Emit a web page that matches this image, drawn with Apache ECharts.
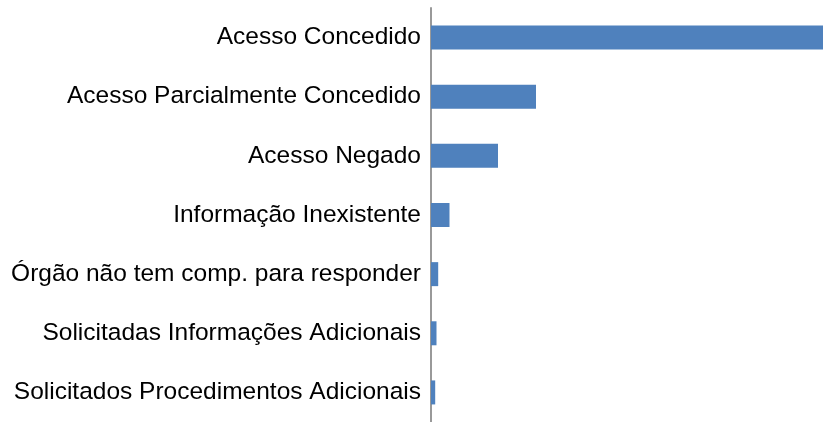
<!DOCTYPE html>
<html>
<head>
<meta charset="utf-8">
<script src="https://cdn.jsdelivr.net/npm/echarts@6/dist/echarts.min.js"></script>
<style>
  html, body { margin: 0; padding: 0; background: #fff; }
  #chart { width: 823px; height: 422px; }
</style>
</head>
<body>
<div id="chart"></div>
<script>
// categories top to bottom
const categories = [
  'Acesso Concedido',
  'Acesso Parcialmente Concedido',
  'Acesso Negado',
  'Informação Inexistente',
  'Órgão não tem comp. para responder',
  'Solicitadas Informações Adicionais',
  'Solicitados Procedimentos Adicionais'
]
const values = [3920, 1050, 670, 185, 72, 55, 42]

const chart = echarts.init(document.getElementById('chart'))
chart.setOption({
  animation: false,
  grid: { left: 431, right: 0, top: 8, height: 420 },
  xAxis: {
    type: 'value',
    min: 0,
    max: 3920,
    show: false
  },
  yAxis: {
    type: 'category',
    data: categories,
    inverse: true,
    axisLine: { show: true, lineStyle: { color: '#999999', width: 2 } },
    axisTick: { show: false },
    axisLabel: {
      color: '#000',
      fontFamily: 'Liberation Sans, Arial, sans-serif',
      fontSize: 24.5,
      margin: 10
    }
  },
  series: [
    {
      type: 'bar',
      data: values,
      barWidth: 24,
      itemStyle: { color: '#4F81BD' }
    }
  ]
})
</script>
</body>
</html>
